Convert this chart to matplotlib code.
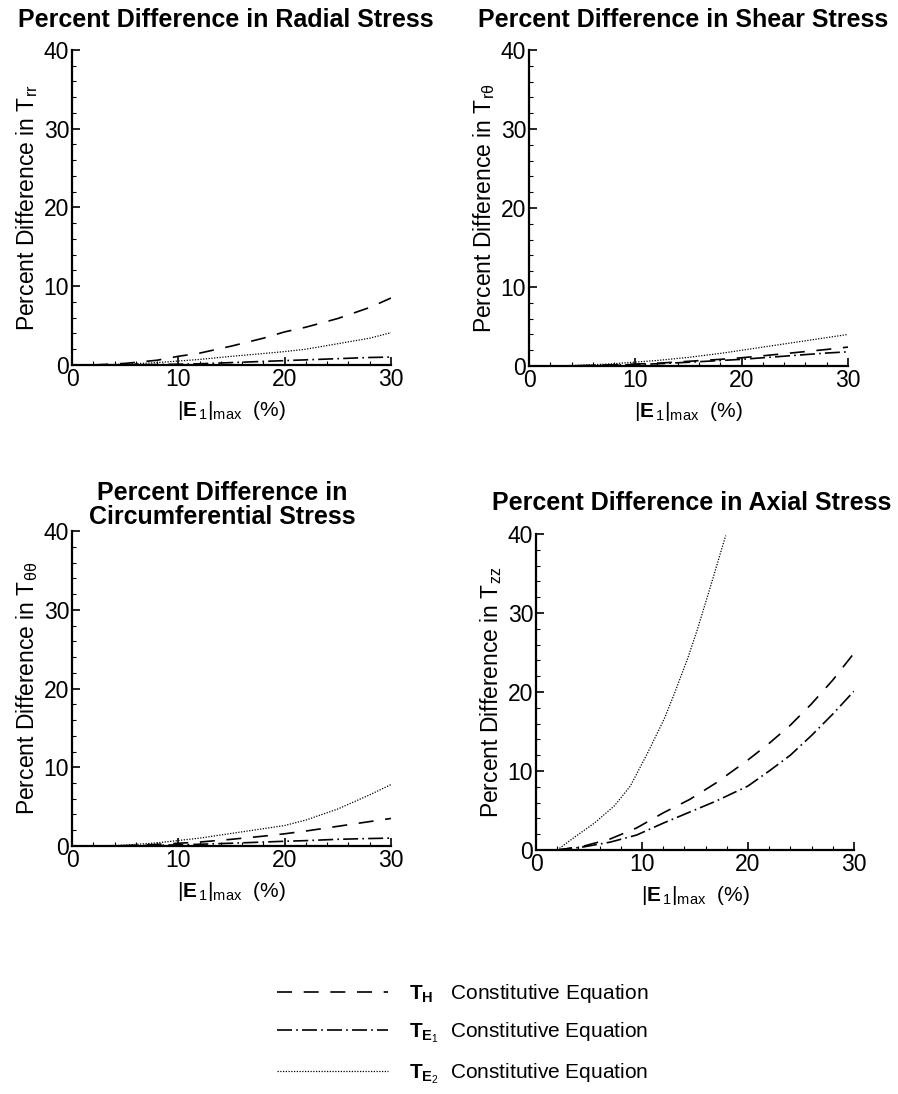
import numpy as np
import matplotlib
matplotlib.use("Agg")
import matplotlib.pyplot as plt
from matplotlib.ticker import MultipleLocator

plt.rcParams['font.family'] = ['Liberation Sans', 'DejaVu Sans']
plt.rcParams['mathtext.fontset'] = 'custom'
plt.rcParams['mathtext.rm'] = 'Liberation Sans'
plt.rcParams['mathtext.it'] = 'Liberation Sans:italic'
plt.rcParams['mathtext.bf'] = 'Liberation Sans:bold'

# strain |E1|max (%)
x_small = [2, 5, 8, 10, 12, 15, 18, 20, 22, 25, 28, 30]

# radial stress
rad_H = [0.0, 0.2, 0.6, 1.1, 1.5, 2.4, 3.4, 4.2, 4.8, 5.9, 7.3, 8.5]
rad_E1 = [0.0, 0.02, 0.05, 0.1, 0.15, 0.3, 0.45, 0.55, 0.65, 0.8, 0.95, 1.0]
rad_E2 = [0.0, 0.1, 0.3, 0.5, 0.7, 1.1, 1.45, 1.7, 2.0, 2.7, 3.4, 4.1]

# shear stress
she_H = [0.0, 0.05, 0.15, 0.25, 0.35, 0.6, 0.85, 1.05, 1.3, 1.7, 2.1, 2.4]
she_E1 = [0.0, 0.04, 0.12, 0.2, 0.28, 0.48, 0.7, 0.85, 1.05, 1.35, 1.65, 1.8]
she_E2 = [0.0, 0.1, 0.3, 0.5, 0.7, 1.1, 1.6, 2.0, 2.4, 3.0, 3.6, 4.0]

# circumferential stress
cir_H = [0.0, 0.05, 0.2, 0.35, 0.5, 0.85, 1.25, 1.55, 1.9, 2.5, 3.1, 3.5]
cir_E1 = [0.0, 0.02, 0.08, 0.15, 0.22, 0.35, 0.5, 0.6, 0.68, 0.85, 0.95, 1.0]
cir_E2 = [0.0, 0.1, 0.4, 0.7, 1.0, 1.6, 2.2, 2.6, 3.3, 4.7, 6.5, 7.8]

# axial stress
x_ax = [2, 4.5, 7, 9.5, 12, 14.5, 17, 20, 22, 24, 26, 28, 30]
ax_H = [0.0, 0.5, 1.4, 2.8, 4.7, 6.4, 8.5, 11.4, 13.5, 15.8, 18.5, 21.5, 24.9]
ax_E1 = [0.0, 0.4, 1.0, 1.9, 3.4, 4.8, 6.2, 8.1, 10.0, 12.0, 14.5, 17.2, 20.1]
x_ax2 = [2, 3.6, 5.5, 7.4, 8.9, 10.5, 12.1, 13.0, 14.3, 15.2, 16.5, 17.9]
ax_E2 = [0.0, 1.6, 3.4, 5.6, 8.1, 12.2, 16.6, 19.6, 24.2, 27.8, 33.5, 39.8]

titles = ['Percent Difference in Radial Stress',
          'Percent Difference in Shear Stress',
          'Percent Difference in\nCircumferential Stress',
          'Percent Difference in Axial Stress']
ylabels = [r'Percent Difference in T$_{\mathrm{rr}}$',
           r'Percent Difference in T$_{\mathrm{r\theta}}$',
           r'Percent Difference in T$_{\mathrm{\theta\theta}}$',
           r'Percent Difference in T$_{\mathrm{zz}}$']
xlabel = r'$|\mathbf{E}_{\,1}|_{\mathrm{max}}$  (%)'
legend_labels = [r'$\mathbf{T}_{\mathbf{H}}$   Constitutive Equation',
                 r'$\mathbf{T}_{\mathbf{E}_1}$  Constitutive Equation',
                 r'$\mathbf{T}_{\mathbf{E}_2}$  Constitutive Equation']

panels = [
    (x_small, rad_H, x_small, rad_E1, x_small, rad_E2),
    (x_small, she_H, x_small, she_E1, x_small, she_E2),
    (x_small, cir_H, x_small, cir_E1, x_small, cir_E2),
    (x_ax, ax_H, x_ax, ax_E1, x_ax2, ax_E2),
]

fig = plt.figure(figsize=(8.98, 10.94), dpi=100)
rects = [[0.0802, 0.6664, 0.3552, 0.2879],
         [0.5891, 0.6654, 0.3552, 0.2888],
         [0.0802, 0.2267, 0.3552, 0.2879],
         [0.5969, 0.2230, 0.3540, 0.2889]]
title_pos = [(226, 20), (683, 20), (222, 505), (692, 503)]

dash_H = (0, (9, 7))
dash_E1 = (0, (9, 2.5, 1, 2.5))
dash_E2 = (0, (1, 1.2))

handles = None
for i, r in enumerate(rects):
    ax = fig.add_axes(r)
    xh, yh, xe1, ye1, xe2, ye2 = panels[i]
    l1, = ax.plot(xh, yh, color='black', lw=1.2, linestyle=dash_H)
    l2, = ax.plot(xe1, ye1, color='black', lw=1.2, linestyle=dash_E1)
    l3, = ax.plot(xe2, ye2, color='black', lw=0.9, linestyle=dash_E2)
    handles = [l1, l2, l3]
    ax.set_xlim(0, 30)
    ax.set_ylim(0, 40)
    ax.spines['top'].set_visible(False)
    ax.spines['right'].set_visible(False)
    ax.spines['left'].set_linewidth(1.6)
    ax.spines['bottom'].set_linewidth(1.6)
    ax.xaxis.set_major_locator(MultipleLocator(10))
    ax.xaxis.set_minor_locator(MultipleLocator(2))
    ax.yaxis.set_major_locator(MultipleLocator(10))
    ax.yaxis.set_minor_locator(MultipleLocator(2))
    ax.tick_params(which='both', direction='in', labelsize=16.5, width=1.2, pad=2)
    ax.tick_params(which='major', length=6)
    ax.tick_params(which='minor', length=3, width=0.8)
    ax.set_ylabel(ylabels[i], fontsize=16.5, labelpad=3)
    ax.set_xlabel(xlabel, fontsize=15, labelpad=6)
    tx, ty = title_pos[i]
    fig.text(tx / 898, 1 - ty / 1094, titles[i], fontsize=18, fontweight='bold',
             ha='center', va='center', linespacing=1.0)

fig.legend(handles, legend_labels, loc='center left', bbox_to_anchor=(0.288, 0.055),
           frameon=False, fontsize=15, handlelength=5.3, handletextpad=1.0,
           labelspacing=0.75)

fig.savefig('out.png', dpi=100)
